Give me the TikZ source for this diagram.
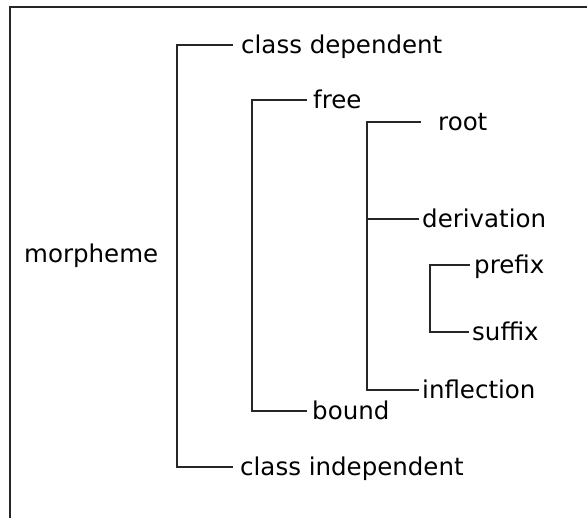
\documentclass[tikz,border=0pt]{standalone}
\usepackage{fontspec}
\setmainfont{DejaVu Sans}
\usetikzlibrary{positioning}

\tikzset{
  term/.style={right, inner sep=0pt, text height=20pt, text depth=2pt,
    font=\fontsize{24.5}{29}\selectfont},
  branch/.style={line width=1.7pt, black!85}
}

\begin{document}
\begin{tikzpicture}[x=1pt, y=-1pt]
\useasboundingbox (0,0) rectangle (587,518);
% frame (only top and left show)
\draw [branch] (10,518) -- (10,7) -- (587,7);

\node [term] (morph) at (24,254) {morpheme};

\node [term] (cdep) at (241,45) {class dependent};
\node [term] (cind) at (240,467) {class independent};
\draw [branch] ([xshift=-8pt]cdep.west) -- ++(-56,0) |- ([xshift=-7pt]cind.west);

\node [term] (free) at (313,100) {free};
\node [term] (bound) at (312,411) {bound};
\draw [branch] ([xshift=-6pt]free.west) -- ++(-55,0) |- ([xshift=-5pt]bound.west);

\node [term] (root) at (438,122) {root};
\node [term] (deriv) at (422,219) {derivation};
\node [term] (infl) at (422,390) {inflection};
\draw [branch] ([xshift=-17pt]root.west) -- ++(-54,0) |- ([xshift=-3pt]infl.west);
\draw [branch] (367,219) -- ([xshift=-3pt]deriv.west);

\node [term] (prefix) at (474,265) {prefix};
\node [term] (suffix) at (472,332) {suffix};
\draw [branch] ([xshift=-4pt]prefix.west) -- ++(-40,0) |- ([xshift=-3pt]suffix.west);
\end{tikzpicture}
\end{document}
